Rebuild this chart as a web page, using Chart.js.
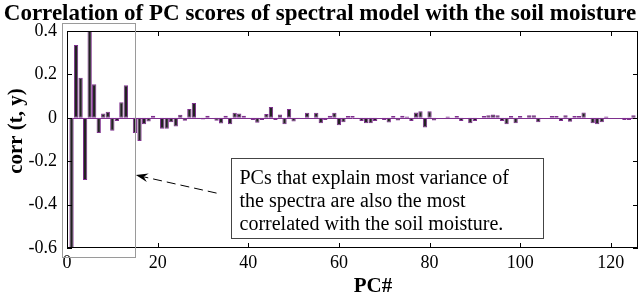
<!DOCTYPE html>
<html>
<head>
<meta charset="utf-8">
<script src="https://cdn.jsdelivr.net/npm/chart.js@4.4.1/dist/chart.umd.min.js"></script>
<style>
  html, body { margin: 0; padding: 0; background: #fff; }
  #wrap { width: 640px; height: 294px; }
</style>
</head>
<body>
<div id="wrap"><canvas id="corrChart" width="640" height="294"></canvas></div>
<script>
// Correlation of each PC score with soil moisture
const corrValues = [
    -0.60, 0.335, 0.184, -0.287, 0.40, 0.155, -0.07, 0.02, 0.028, -0.06,
    -0.015, 0.072, 0.15, 0.0, -0.07, -0.107, -0.03, -0.017, 0.01, 0.0,
    -0.05, -0.05, -0.02, -0.04, 0.014, -0.014, 0.04, 0.068, -0.005, -0.008,
    0.01, 0.0, -0.014, -0.026, 0.01, -0.03, 0.023, 0.02, 0.01, -0.005,
    -0.01, -0.023, -0.01, 0.017, 0.05, -0.01, 0.015, -0.03, 0.04, -0.017,
    -0.002, 0.0, 0.023, 0.0, 0.023, -0.025, -0.01, 0.01, 0.023, -0.034,
    -0.02, 0.008, 0.008, -0.003, -0.015, -0.025, -0.025, -0.015, 0.0, -0.01,
    -0.022, 0.008, -0.012, 0.01, 0.006, -0.015, 0.025, 0.03, -0.045, 0.03,
    -0.012, 0.0, 0.0, 0.006, -0.002, 0.008, -0.015, 0.0, -0.025, -0.015,
    0.0, 0.008, 0.012, 0.015, 0.012, -0.015, -0.03, 0.008, -0.025, 0.008,
    0.0, 0.012, 0.012, -0.02, 0.0, 0.0, 0.008, 0.008, -0.015, 0.012,
    -0.018, 0.008, 0.008, 0.025, 0.0, -0.025, -0.03, -0.02, 0.006, 0.0,
    0.0, 0.0, -0.01, -0.01, 0.012
];

// PC numbers 1..N
const pcNumbers = corrValues.map((_, i) => i + 1);

// Axis ticks
const xTicks = [0, 20, 40, 60, 80, 100, 120];
const yTicks = [-0.6, -0.4, -0.2, 0, 0.2, 0.4];

const titleText = 'Correlation of PC scores of spectral model with the soil moisture';
const xTitle = 'PC#';
const yTitle = 'corr (t, y)';
const noteLines = [
    'PCs that explain most variance of',
    'the spectra are also the most',
    'correlated with the soil moisture.'
];

const SERIF = "'Liberation Serif', 'DejaVu Serif', serif";
const barFill = '#222222';
const barEdge = '#7E2F8E';

// Draws the MATLAB-like decorations: box, inward ticks, baseline, notes
const figureDecor = {
    id: 'figureDecor',
    afterDatasetsDraw(chart) {
        const { ctx, chartArea: a, scales: { y } } = chart;
        ctx.save();
        // baseline at zero
        const y0 = Math.round(y.getPixelForValue(0)) + 0.5;
        ctx.strokeStyle = barEdge;
        ctx.lineWidth = 1;
        ctx.beginPath();
        ctx.moveTo(a.left, y0);
        ctx.lineTo(a.right, y0);
        ctx.stroke();
        ctx.restore();
    },
    afterDraw(chart) {
        const { ctx, chartArea: a, scales: { x, y } } = chart;
        ctx.save();

        // axes box
        ctx.strokeStyle = '#000';
        ctx.lineWidth = 1;
        ctx.strokeRect(Math.round(a.left) + 0.5, Math.round(a.top) + 0.5,
            Math.round(a.right - a.left) - 1, Math.round(a.bottom - a.top) - 1);

        // inward ticks
        const tl = 5;
        ctx.beginPath();
        xTicks.forEach(v => {
            const px = Math.round(x.getPixelForValue(v)) + 0.5;
            ctx.moveTo(px, a.bottom); ctx.lineTo(px, a.bottom - tl);
            ctx.moveTo(px, a.top); ctx.lineTo(px, a.top + tl);
        });
        yTicks.forEach(v => {
            const py = Math.round(y.getPixelForValue(v)) + 0.5;
            ctx.moveTo(a.left, py); ctx.lineTo(a.left + tl, py);
            ctx.moveTo(a.right, py); ctx.lineTo(a.right - tl, py);
        });
        ctx.stroke();

        // grey box around the first PCs
        ctx.strokeStyle = '#9a9a9a';
        const gx1 = Math.round(x.getPixelForValue(-1.2)) + 0.5;
        const gx2 = Math.round(x.getPixelForValue(14.9)) + 0.5;
        const gy1 = Math.round(y.getPixelForValue(0.437)) + 0.5;
        const gy2 = Math.round(y.getPixelForValue(-0.641)) + 0.5;
        ctx.strokeRect(gx1, gy1, gx2 - gx1, gy2 - gy1);

        // note box
        const bx1 = Math.round(x.getPixelForValue(36.1)) + 0.5;
        const bx2 = Math.round(x.getPixelForValue(105.1)) + 0.5;
        const by1 = Math.round(y.getPixelForValue(-0.186)) + 0.5;
        const by2 = Math.round(y.getPixelForValue(-0.554)) + 0.5;
        ctx.fillStyle = '#fff';
        ctx.fillRect(bx1, by1, bx2 - bx1, by2 - by1);
        ctx.strokeStyle = '#444';
        ctx.strokeRect(bx1, by1, bx2 - bx1, by2 - by1);
        ctx.fillStyle = '#000';
        ctx.font = '20px ' + SERIF;
        ctx.textAlign = 'left';
        ctx.textBaseline = 'alphabetic';
        noteLines.forEach((line, i) => {
            ctx.fillText(line, bx1 + 8, by1 + 25 + i * 23);
        });

        // dashed arrow
        const ax1 = x.getPixelForValue(33.0), ay1 = y.getPixelForValue(-0.347);
        const ax2 = x.getPixelForValue(15.2), ay2 = y.getPixelForValue(-0.264);
        const ang = Math.atan2(ay2 - ay1, ax2 - ax1);
        ctx.strokeStyle = '#000';
        ctx.setLineDash([9, 5]);
        ctx.beginPath();
        ctx.moveTo(ax1, ay1);
        ctx.lineTo(ax2 - 8 * Math.cos(ang), ay2 - 8 * Math.sin(ang));
        ctx.stroke();
        ctx.setLineDash([]);
        ctx.beginPath();
        ctx.moveTo(ax2, ay2);
        ctx.lineTo(ax2 - 13 * Math.cos(ang - 0.35), ay2 - 13 * Math.sin(ang - 0.35));
        ctx.lineTo(ax2 - 8 * Math.cos(ang), ay2 - 8 * Math.sin(ang));
        ctx.lineTo(ax2 - 13 * Math.cos(ang + 0.35), ay2 - 13 * Math.sin(ang + 0.35));
        ctx.closePath();
        ctx.fill();

        // title
        ctx.font = 'bold 23px ' + SERIF;
        ctx.textAlign = 'center';
        ctx.fillText(titleText, 320, 20);

        // axis titles
        ctx.font = 'bold 21px ' + SERIF;
        ctx.fillText(xTitle, 373, 292);
        ctx.save();
        ctx.translate(22, 131);
        ctx.rotate(-Math.PI / 2);
        ctx.fillText(yTitle, 0, 0);
        ctx.restore();

        ctx.restore();
    }
};

const ctxCorr = document.getElementById('corrChart').getContext('2d');
new Chart(ctxCorr, {
    type: 'bar',
    data: {
        datasets: [{
            data: pcNumbers.map((pc, i) => ({ x: pc, y: corrValues[i] })),
            backgroundColor: barFill,
            borderColor: barEdge,
            borderWidth: 1,
            borderSkipped: false,
            barPercentage: 0.95,
            categoryPercentage: 1
        }]
    },
    options: {
        responsive: false,
        animation: false,
        devicePixelRatio: 1,
        layout: { padding: { top: 31, right: 2, left: 0, bottom: 0 } },
        plugins: {
            legend: { display: false },
            tooltip: { enabled: false }
        },
        scales: {
            x: {
                type: 'linear',
                min: 0,
                max: 126,
                offset: false,
                grid: { display: false, drawTicks: false },
                border: { display: false },
                afterBuildTicks: scale => { scale.ticks = xTicks.map(v => ({ value: v })); },
                afterFit: scale => { scale.height = 46; },
                ticks: {
                    color: '#000',
                    font: { family: SERIF, size: 18 },
                    padding: 4,
                    maxRotation: 0,
                    autoSkip: false
                }
            },
            y: {
                min: -0.6,
                max: 0.4,
                grid: { display: false, drawTicks: false },
                border: { display: false },
                afterBuildTicks: scale => { scale.ticks = yTicks.map(v => ({ value: v })); },
                afterFit: scale => { scale.width = 67; },
                ticks: {
                    color: '#000',
                    font: { family: SERIF, size: 18 },
                    padding: 10,
                    callback: v => String(Number(v.toFixed(1)))
                }
            }
        }
    },
    plugins: [figureDecor]
});
</script>
</body>
</html>
